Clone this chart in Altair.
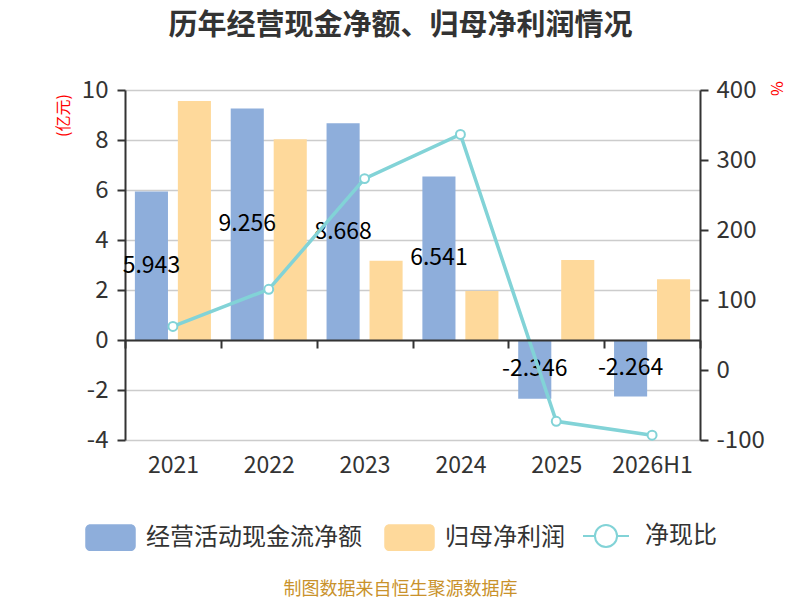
import altair as alt
import pandas as pd

FONT = "Noto Sans CJK SC"
TITLE_FONT = "Liberation Sans, Noto Sans CJK SC"

years = ["2021", "2022", "2023", "2024", "2025", "2026H1"]
cash_flow = [5.943, 9.256, 8.668, 6.541, -2.346, -2.264]
net_profit = [9.56, 8.03, 3.17, 1.96, 3.20, 2.43]
cash_ratio = [62.2, 115.3, 273.4, 336.5, -73.3, -93.2]
series_names = ["经营活动现金流净额", "归母净利润"]
ratio_name = "净现比"
title_text = "历年经营现金净额、归母净利润情况"
source_text = "制图数据来自恒生聚源数据库"

BLUE = "#8eaedb"
ORANGE = "#fed99b"
TEAL = "#82d3d7"
DARK = "#333333"

bars_df = pd.DataFrame({
    "year": years * 2,
    "series": [series_names[0]] * len(years) + [series_names[1]] * len(years),
    "value": cash_flow + net_profit,
})
cash_df = pd.DataFrame({
    "year": years,
    "series": series_names[0],
    "value": cash_flow,
    "label": [f"{v:.3f}" for v in cash_flow],
})
ratio_df = pd.DataFrame({"year": years, "name": ratio_name, "ratio": cash_ratio})

x_axis = alt.Axis(
    title=source_text, offset=-100, tickBand="extent", grid=False,
    domainColor=DARK, domainWidth=2, tickColor=DARK, tickWidth=2, tickSize=8,
    labelFontSize=23, labelColor=DARK, labelPadding=117, labelBaseline="middle", labelAngle=0,
    titleFontSize=18, titleColor="#c9922b", titleFontWeight="normal",
    titleX=275, titleY=249, titleAlign="center", titleBaseline="middle", zindex=1,
)
x_main = alt.X("year:N", sort=years, scale=alt.Scale(domain=years, paddingInner=0, paddingOuter=0), axis=x_axis)
x_plain = alt.X("year:N", sort=years)
x_off = alt.XOffset("series:N", sort=series_names,
                    scale=alt.Scale(domain=series_names, paddingInner=0.23, paddingOuter=0.23))

y_left_axis = alt.Axis(
    title="(亿元)", values=[-4, -2, 0, 2, 4, 6, 8, 10], grid=True, gridColor="#cccccc", gridWidth=1.5,
    domainColor=DARK, domainWidth=2, tickColor=DARK, tickWidth=2, tickSize=8,
    labelFontSize=24, labelColor=DARK, labelPadding=9, labelExpr="datum.value + ''",
    titleColor="red", titleFontSize=16, titleFontWeight="normal", titleAngle=-90,
    titleX=-62, titleY=25, titleAlign="center", titleBaseline="middle",
)
y_right_axis = alt.Axis(
    title="%", orient="right", values=[-100, 0, 100, 200, 300, 400], grid=False,
    domainColor=DARK, domainWidth=2, tickColor=DARK, tickWidth=2, tickSize=8,
    labelFontSize=24, labelColor=DARK, labelPadding=8, labelExpr="datum.value + ''",
    titleColor="red", titleFontSize=16, titleFontWeight="normal", titleAngle=90,
    titleX=75, titleY=-2, titleAlign="center", titleBaseline="middle",
)

RECT_PATH = ("M-0.8,-0.53 H0.8 A0.2,0.2 0 0 1 1,-0.33 V0.33 A0.2,0.2 0 0 1 0.8,0.53 "
             "H-0.8 A0.2,0.2 0 0 1 -1,0.33 V-0.33 A0.2,0.2 0 0 1 -0.8,-0.53 Z")
LINE_PATH = ("M-1,0 H-0.48 M0.48,0 H1 M-0.48,0 A0.48,0.48 0 1 1 0.48,0 "
             "A0.48,0.48 0 1 1 -0.48,0")

bar_legend = alt.Legend(
    title=None, orient="none", legendX=-40, legendY=422, direction="horizontal",
    symbolType=RECT_PATH, symbolSize=2550, symbolStrokeWidth=0, symbolOpacity=1,
    labelFontSize=24, labelColor=DARK, labelFont=FONT, labelOffset=10, labelLimit=400,
    columnPadding=22, padding=0,
)
line_legend = alt.Legend(
    title=None, orient="none", legendX=457, legendY=422, direction="horizontal",
    symbolType=LINE_PATH, symbolSize=2116, symbolStrokeWidth=2, symbolFillColor="white",
    labelFontSize=24, labelColor=DARK, labelFont=FONT, labelOffset=15, labelLimit=400, padding=0,
)

bars = alt.Chart(bars_df).mark_bar().encode(
    x=x_main,
    xOffset=x_off,
    y=alt.Y("value:Q", scale=alt.Scale(domain=[-4, 10], nice=False, zero=False), axis=y_left_axis),
    color=alt.Color("series:N", sort=series_names,
                    scale=alt.Scale(domain=series_names, range=[BLUE, ORANGE]), legend=bar_legend),
)

labels = alt.Chart(cash_df).transform_calculate(mid="datum.value / 2").mark_text(
    fontSize=23, color="black", font=FONT
).encode(
    x=x_plain,
    xOffset=alt.XOffset("series:N"),
    y=alt.Y("mid:Q"),
    text=alt.Text("label:N"),
)

line = alt.Chart(ratio_df).mark_line(strokeWidth=3.5).encode(
    x=x_plain,
    y=alt.Y("ratio:Q", scale=alt.Scale(domain=[-100, 400], nice=False, zero=False), axis=y_right_axis),
    stroke=alt.Stroke("name:N", scale=alt.Scale(domain=[ratio_name], range=[TEAL]), legend=line_legend),
)
points = alt.Chart(ratio_df).mark_point(
    filled=True, fill="white", stroke=TEAL, strokeWidth=2, size=80, opacity=1
).encode(
    x=x_plain,
    y=alt.Y("ratio:Q"),
)

left = alt.layer(bars, labels)
right = alt.layer(line, points)

chart = alt.layer(left, right).resolve_scale(y="independent").properties(
    width=575, height=350,
    autosize=alt.AutoSizeParams(type="none"),
    padding={"left": 117, "top": 82, "right": 92, "bottom": 158},
    title=alt.TitleParams(text=title_text, fontSize=29, font=TITLE_FONT, fontWeight="bold",
                          color=DARK, anchor="middle", dx=-12, offset=37),
).configure(font=FONT, background="white").configure_view(stroke=None)

chart.save("out.html", embed_options={"renderer": "svg", "actions": False})
